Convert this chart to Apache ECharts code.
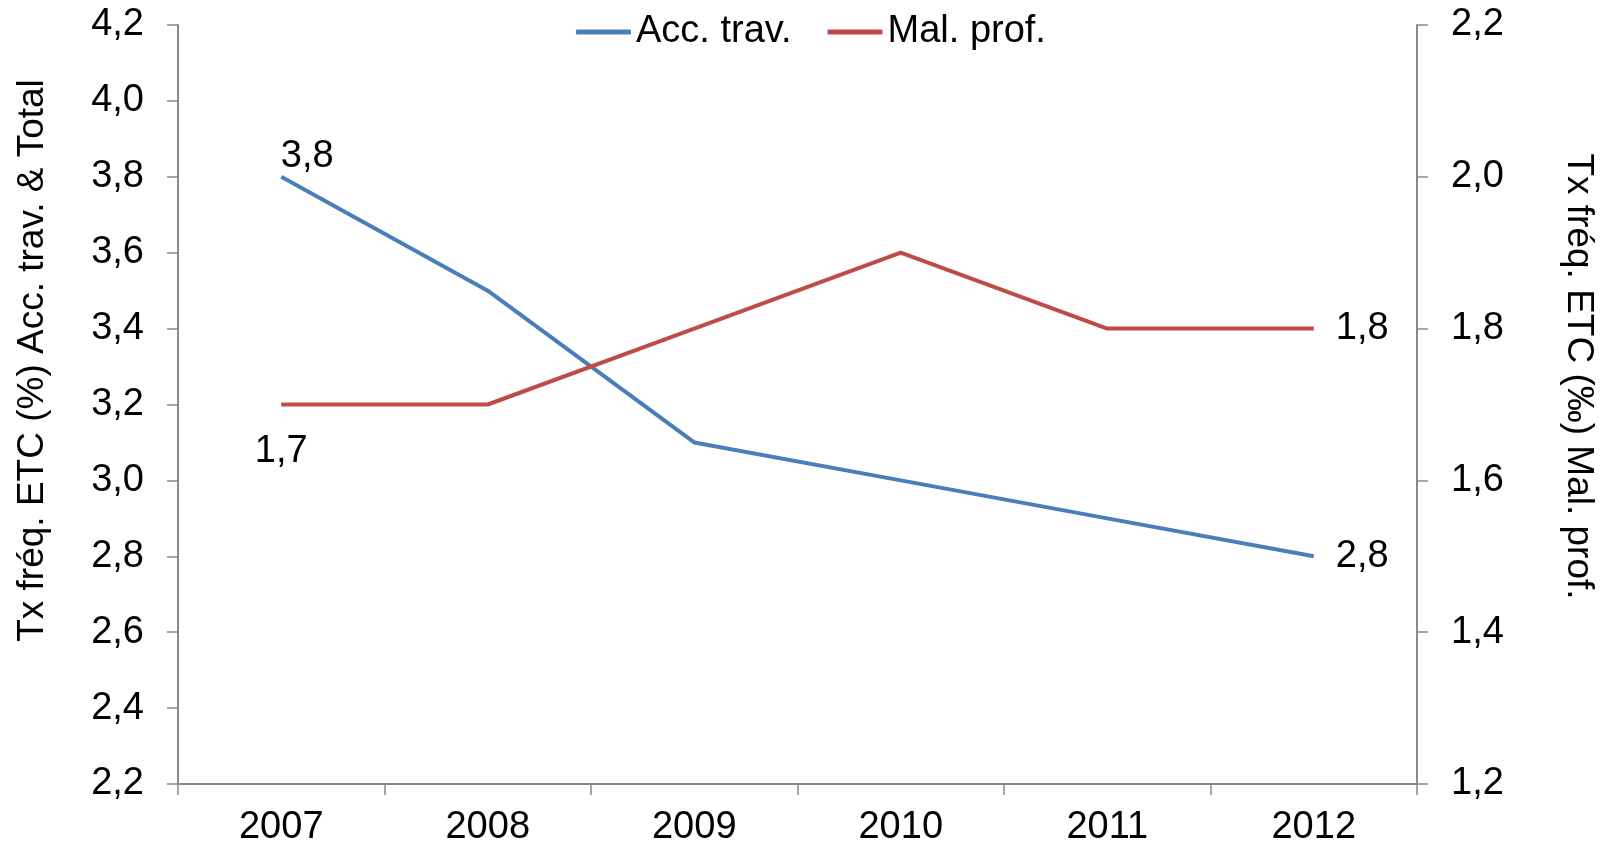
<!DOCTYPE html>
<html>
<head>
<meta charset="utf-8">
<script src="https://cdn.jsdelivr.net/npm/echarts@6/dist/echarts.min.js"></script>
<style>
html,body{margin:0;padding:0;background:#fff;}
#chart{width:1606px;height:843px;}
</style>
</head>
<body>
<div id="chart"></div>
<script>
const categories = ['2007', '2008', '2009', '2010', '2011', '2012'];
const accTrav = [3.8, 3.5, 3.1, 3.0, 2.9, 2.8];
const malProf = [1.7, 1.7, 1.8, 1.9, 1.8, 1.8];
const seriesNames = ['Acc. trav.', 'Mal. prof.'];
const leftAxisTitle = 'Tx fréq. ETC (%) Acc. trav. & Total';
const rightAxisTitle = 'Tx fréq. ETC (‰) Mal. prof.';

const FONT = 'Liberation Sans, Arial, sans-serif';
const FS = 38;
const fmt = v => Number(v).toFixed(1).replace('.', ',');
const axisGrey = '#898989';

function buildData(values, labels) {
  return values.map((v, i) => {
    const item = { value: v };
    if (labels[i]) item.label = Object.assign({ show: true, color: '#000', fontSize: FS, fontFamily: FONT }, labels[i]);
    return item;
  });
}

const accLabels = {};
accLabels[0] = { position: 'top', distance: 1, offset: [26, 0] };
accLabels[accTrav.length - 1] = { position: 'right', distance: 22 };
const malLabels = {};
malLabels[0] = { position: 'bottom', distance: 28 };
malLabels[malProf.length - 1] = { position: 'right', distance: 22 };

const chart = echarts.init(document.getElementById('chart'), null, { renderer: 'canvas' });
chart.setOption({
  animation: false,
  backgroundColor: '#fff',
  textStyle: { fontFamily: FONT },
  grid: { left: 178, right: 189, top: 25, bottom: 59, outerBoundsMode: 'none', containLabel: false },
  legend: {
    top: 8,
    left: 571,
    itemGap: 36,
    itemWidth: 55,
    itemHeight: 5,
    icon: 'roundRect',
    textStyle: { fontSize: FS, color: '#000', fontFamily: FONT },
    data: seriesNames
  },
  xAxis: {
    type: 'category',
    data: categories,
    boundaryGap: true,
    axisLine: { lineStyle: { color: axisGrey, width: 2 } },
    axisTick: { show: true, interval: 0, length: 11, lineStyle: { color: axisGrey, width: 1.5 } },
    axisLabel: { fontSize: FS, color: '#000', margin: 25, fontFamily: FONT },
    splitLine: { show: false }
  },
  yAxis: [
    {
      type: 'value',
      min: 2.2, max: 4.2, interval: 0.2,
      position: 'left',
      name: leftAxisTitle,
      nameLocation: 'middle',
      nameRotate: 90,
      nameGap: 127,
      nameTextStyle: { fontSize: 37, color: '#000', fontFamily: FONT, padding: [0, 0, 0, 88] },
      axisLine: { show: true, lineStyle: { color: axisGrey, width: 2 } },
      axisTick: { show: true, length: 11, lineStyle: { color: axisGrey, width: 1.5 } },
      axisLabel: { fontSize: FS, color: '#000', margin: 34, formatter: fmt, fontFamily: FONT },
      splitLine: { show: false }
    },
    {
      type: 'value',
      min: 1.2, max: 2.2, interval: 0.2,
      position: 'right',
      name: rightAxisTitle,
      nameLocation: 'middle',
      nameRotate: -90,
      nameGap: 143,
      nameTextStyle: { fontSize: 37, color: '#000', fontFamily: FONT, padding: [0, 56, 0, 0] },
      axisLine: { show: true, lineStyle: { color: axisGrey, width: 2 } },
      axisTick: { show: true, length: 11, lineStyle: { color: axisGrey, width: 1.5 } },
      axisLabel: { fontSize: FS, color: '#000', margin: 34, formatter: fmt, fontFamily: FONT },
      splitLine: { show: false }
    }
  ],
  series: [
    {
      name: seriesNames[0],
      type: 'line',
      yAxisIndex: 0,
      data: buildData(accTrav, accLabels),
      symbol: 'circle',
      symbolSize: 0,
      showSymbol: true,
      label: { show: false, formatter: p => fmt(p.value) },
      lineStyle: { color: '#4A7EBB', width: 4 },
      itemStyle: { color: '#4A7EBB' }
    },
    {
      name: seriesNames[1],
      type: 'line',
      yAxisIndex: 1,
      data: buildData(malProf, malLabels),
      symbol: 'circle',
      symbolSize: 0,
      showSymbol: true,
      label: { show: false, formatter: p => fmt(p.value) },
      lineStyle: { color: '#BE4B48', width: 4 },
      itemStyle: { color: '#BE4B48' }
    }
  ]
});
</script>
</body>
</html>
